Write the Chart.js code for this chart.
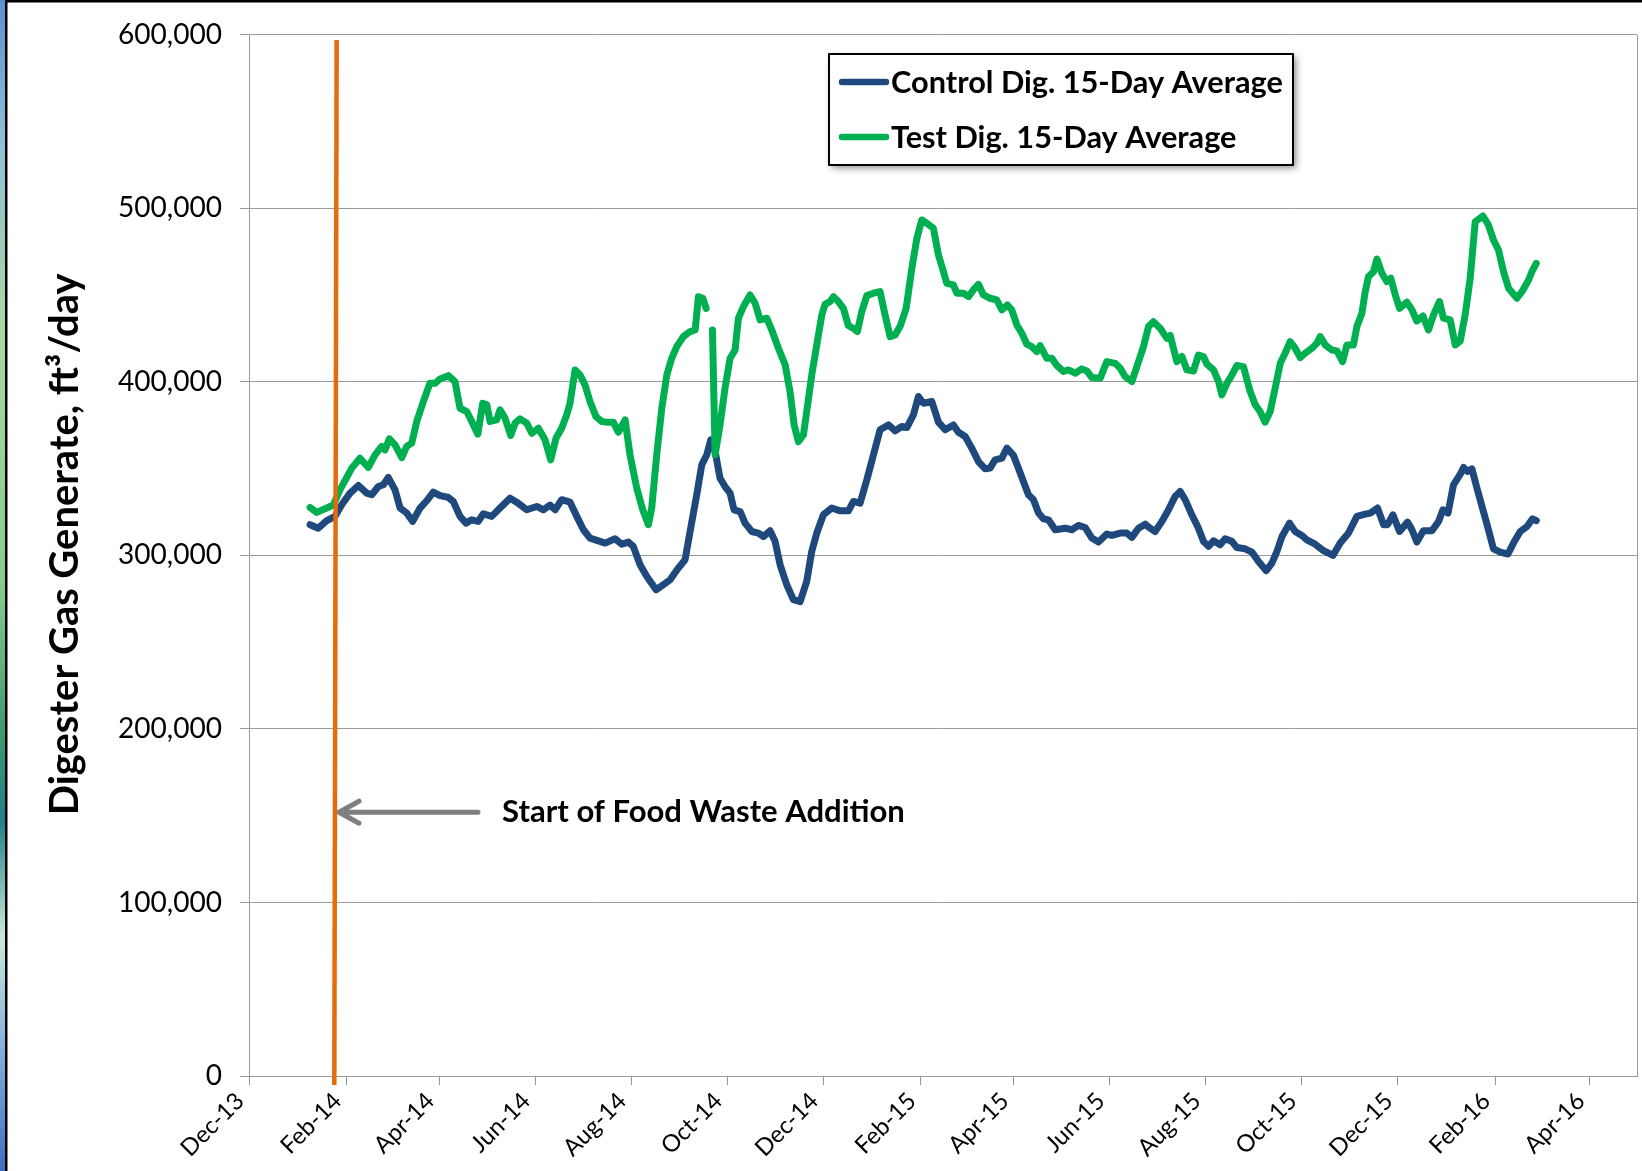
<!DOCTYPE html>
<html><head><meta charset="utf-8">
<script src="https://cdn.jsdelivr.net/npm/chart.js@4.4.1/dist/chart.umd.min.js"></script>
<style>
html,body{margin:0;padding:0;background:#fff;}
canvas{display:block;}
</style></head><body>
<canvas id="c" width="1642" height="1171"></canvas>
<script>
// ---------------- DATA ----------------
const START_DATE = '2013-12-01';
const AXIS_END_DATE = '2016-05-01';
const xTickDates = ['2013-12-01','2014-02-01','2014-04-01','2014-06-01','2014-08-01','2014-10-01','2014-12-01','2015-02-01','2015-04-01','2015-06-01','2015-08-01','2015-10-01','2015-12-01','2016-02-01','2016-04-01'];
const xTickLabels = ['Dec-13','Feb-14','Apr-14','Jun-14','Aug-14','Oct-14','Dec-14','Feb-15','Apr-15','Jun-15','Aug-15','Oct-15','Dec-15','Feb-16','Apr-16'];
const yTickValues = [0,100000,200000,300000,400000,500000,600000];
const yTickLabels = ['0','100,000','200,000','300,000','400,000','500,000','600,000'];
const yAxisTitle = 'Digester Gas Generate, ft\u00B3/day';
const controlLabel = 'Control Dig. 15-Day Average';
const testLabel = 'Test Dig. 15-Day Average';

// days since START_DATE
const controlDays = [38.8,44.0,49.4,54.7,58.9,64.2,69.5,74.8,78.0,82.2,85.4,88.5,92.8,96.0,100.2,104.0,108.7,112.9,117.1,121.4,126.7,129.8,134.1,137.9,141.5,145.7,148.9,154.2,159.5,165.9,170.1,176.5,182.9,187.0,191.3,194.5,198.7,204.0,208.3,212.5,216.7,222.0,226.3,232.6,236.9,241.1,244.2,248.5,252.8,258.7,263.3,267.6,272.8,277.1,280.3,284.5,287.7,290.9,293.4,296.2,299.3,302.5,305.7,308.2,312.1,315.2,319.5,323.7,326.9,331.1,334.3,337.5,341.7,345.9,350.2,354.4,357.6,360.8,365.0,370.3,375.6,380.9,384.1,388.3,392.6,396.8,401.0,406.3,410.6,414.8,418.0,422.2,425.4,428.6,433.9,438.1,442.4,447.6,450.8,455.1,459.3,463.5,467.8,470.9,474.1,478.4,481.6,485.8,488.9,492.1,495.3,498.5,501.7,504.8,508.0,512.3,518.6,522.9,527.1,531.3,535.6,539.8,545.1,548.3,553.6,557.8,561.0,565.2,569.5,572.6,575.8,580.1,584.3,588.5,591.7,594.9,599.1,603.3,606.5,609.7,612.9,617.1,620.3,624.6,627.7,633.0,637.3,641.5,646.4,650.0,653.2,656.4,661.2,664.8,669.0,672.2,677.5,682.8,688.8,693.4,698.7,704.0,709.3,712.5,717.1,721.0,723.5,726.9,731.1,736.2,739.0,742.1,746.3,751.7,755.9,758.7,761.9,765.4,769.7,771.8,774.3,777.1,780.3,784.1,787.6,790.8,795.1,800.0,803.5,807.8,812.1,815.6,818.0];
const controlValues = [317700,315700,320000,322500,329200,335900,340300,335900,335000,339700,340700,344900,337800,327300,324400,319600,327300,331500,336500,334500,333400,331100,322500,318600,320500,319600,324000,322500,327300,333000,330700,326300,328200,326300,329000,326300,332100,330700,322500,314800,310000,308400,307100,309600,306500,307700,305200,294600,287900,280200,283100,286000,292700,297500,313800,334900,352200,358000,366600,359900,344500,339700,335900,326300,325300,318600,313800,312900,310900,314200,308100,294600,283100,274500,273300,285000,302300,312900,323400,327300,325700,325700,331100,330100,343600,358000,372400,375200,371800,374300,373700,381000,391600,387700,388700,376800,372400,375200,371000,368500,361800,354100,349900,350300,355100,356100,361800,357600,350300,342600,334900,332100,324400,321100,320500,314800,315700,314800,317300,316100,310000,307700,312300,311500,312900,312900,310400,315700,318000,315700,313800,319600,326300,334000,336900,332100,323400,315700,308100,305200,308400,306100,309600,308100,304600,303800,301900,296500,291200,295600,302300,310900,318600,313800,311500,309000,306500,302700,300000,307100,312900,322500,323800,324400,327300,317700,317700,323400,313800,319200,314800,307700,314200,314200,319600,326300,324400,340700,346800,350700,348400,349900,338800,326300,314800,303800,301900,300800,307100,313800,316700,321100,320000];

const testDays = [38.8,43.0,49.4,53.6,57.8,65.3,70.5,75.8,80.1,84.3,86.4,89.2,92.8,97.1,100.2,103.4,106.6,110.8,115.0,118.2,121.4,126.7,130.9,134.1,138.4,142.6,145.4,148.5,151.1,153.2,157.4,159.5,162.7,166.3,169.1,172.2,176.5,179.7,183.9,188.1,191.7,195.1,198.7,201.9,204.0,207.2,210.4,213.5,216.7,220.5,224.2,227.3,231.5,234.7,239.0,242.1,246.4,250.2,253.8,255.9,259.1,262.3,265.5,268.6,271.8,276.0,280.3,283.5,285.6,288.4,290.5,292.5,294.5,296.2,299.3,302.5,305.7,308.9,311.0,314.2,318.4,321.6,324.8,329.0,332.2,336.4,340.7,343.8,346.4,349.1,352.3,354.4,357.6,360.8,364.0,366.1,369.3,371.4,374.5,377.7,380.9,384.1,386.6,389.4,392.6,396.8,401.0,404.2,407.4,410.6,413.7,417.6,421.2,424.4,427.5,430.7,434.9,438.1,441.3,443.4,447.6,449.8,454.0,457.2,460.3,463.5,466.7,470.9,475.2,478.4,481.9,484.7,487.9,491.1,494.3,497.4,500.6,502.7,507.0,510.2,513.3,517.5,520.7,525.0,529.2,532.4,535.6,540.9,545.1,550.4,553.6,556.7,561.0,564.2,568.4,571.6,574.7,579.0,583.3,585.4,589.6,592.8,596.0,600.2,603.3,606.5,608.7,612.9,616.1,618.2,621.4,624.6,627.7,631.9,636.2,639.4,642.5,645.7,648.9,652.1,655.3,658.4,661.6,664.8,668.0,671.1,675.4,678.6,680.7,683.9,688.1,691.3,694.9,697.7,701.8,704.0,707.2,709.3,711.4,714.6,716.7,719.9,723.1,725.6,728.4,731.1,735.8,739.0,742.1,746.0,749.5,752.7,756.5,759.0,763.3,766.5,769.7,772.8,776.0,779.2,784.1,787.6,790.8,794.0,797.2,800.4,805.7,808.9,813.1,815.2,818.0];
const testValues = [327600,324800,327300,329200,337800,350300,356000,350700,357900,362800,360800,367200,363700,356400,362800,364700,377200,388700,399200,399200,401700,403600,400200,384800,382900,375200,369900,387700,386800,377200,378100,383900,379100,369100,376200,378700,376200,370400,373300,366600,355100,367600,373300,381000,387700,406900,404000,398300,388700,380000,377200,376800,376800,371000,378100,358000,338800,326300,317700,327300,358000,384800,404000,413600,420300,426100,429000,429900,449100,448200,442400,null,429900,358000,375200,396400,413600,418400,436700,443400,450100,445300,435700,436700,429900,419400,409800,394400,375200,365600,369400,382900,404000,421300,438600,444700,446300,449100,446300,442400,432400,430900,429000,440500,449700,451100,452000,438600,426100,427100,431900,442400,465500,482700,493300,491400,488500,473100,463500,456800,455900,451100,451100,449100,453000,456200,450100,448200,447200,441500,444300,441500,432800,428000,421700,420300,417500,420900,413600,413600,409500,406000,406900,405000,407500,406300,402500,402100,411700,410700,407900,403100,400200,408800,420300,431900,434700,430900,425100,426700,411700,414600,406900,406300,415500,414600,410200,406900,400200,392500,399200,404000,409400,408800,394400,386800,382900,376800,382900,396400,410700,416500,423200,419400,414000,416500,419400,422300,426100,421300,418400,417900,411700,421300,421300,431900,439500,452000,460700,463500,470800,462600,457800,459700,450100,442400,445900,441500,435100,438000,429900,438600,446300,436700,435700,421300,423600,438600,459700,492300,495600,490400,481800,476000,463500,453900,448200,452000,458700,463500,468300];

// start-of-food-waste marker (days since START_DATE, value)
const markerDays = [55.7, 54.2];
const markerValues = [597000, -5200];
const annotationText = 'Start of Food Waste Addition';
const arrowTailDay = 145.5, arrowTipDay = 57.2, arrowValue = 152000, annotationDay = 160.8;

// ---------------- STYLE ----------------
const F = 'Lato';
const BLUE = '#1F497D', GREEN = '#00B050', ORANGE = '#E46C0A', GRID = '#9A9A9A', ARROW = '#7F7F7F';
const dayOf = s => (Date.parse(s + 'T00:00:00Z') - Date.parse(START_DATE + 'T00:00:00Z')) / 864e5;
const mctx = document.createElement('canvas').getContext('2d');
function fit(text, weight, target) { mctx.font = weight + ' 100px ' + F; return 100 * target / mctx.measureText(text).width; }
const yTickSize = fit('600,000', 'normal', 104);
const xTickSize = fit('Dec-13', 'normal', 78);
const titleSize = fit(yAxisTitle, 'bold', 542);
const legendSize = fit(controlLabel, 'bold', 392);
const annotSize = fit(annotationText, 'bold', 403);

const pts = (xs, ys) => xs.map((x, i) => ({x: x, y: ys[i]}));

const decor = {
  id: 'decor',
  beforeDraw(chart) {
    const c = chart.ctx, W = chart.width, H = chart.height;
    c.save();
    c.fillStyle = '#fff'; c.fillRect(0, 0, W, H);
    const g = c.createLinearGradient(0, 0, 0, H);
    g.addColorStop(0, '#5b8fd0'); g.addColorStop(0.12, '#8fbfd6'); g.addColorStop(0.28, '#a6d9a2');
    g.addColorStop(0.5, '#86cc8e'); g.addColorStop(0.62, '#3f9c70'); g.addColorStop(0.7, '#1f8088');
    g.addColorStop(0.8, '#c9ead9'); g.addColorStop(0.9, '#80acdc'); g.addColorStop(1, '#3e6ec2');
    c.fillStyle = g; c.fillRect(0, 0, 5, H);
    c.fillStyle = '#000'; c.fillRect(5, 0, 2.5, H); c.fillRect(5, 0, W - 5, 2.5);
    c.restore();
  },
  afterDraw(chart) {
    const c = chart.ctx, a = chart.chartArea, xs = chart.scales.x, ys = chart.scales.y;
    c.save();
    // plot-area right border
    c.strokeStyle = GRID; c.lineWidth = 1;
    c.beginPath(); c.moveTo(Math.round(a.right) + 0.5, a.top); c.lineTo(Math.round(a.right) + 0.5, a.bottom); c.stroke();
    // y-axis title
    c.save();
    c.translate(65, (a.top + a.bottom) / 2 - 11);
    c.rotate(-Math.PI / 2);
    c.fillStyle = '#000'; c.font = 'bold ' + titleSize + 'px ' + F;
    c.textAlign = 'center'; c.textBaseline = 'middle';
    c.fillText(yAxisTitle, 0, 0);
    c.restore();
    // arrow
    const ay = ys.getPixelForValue(arrowValue);
    const tx = xs.getPixelForValue(arrowTipDay), sx = xs.getPixelForValue(arrowTailDay);
    c.strokeStyle = ARROW; c.lineWidth = 5; c.lineCap = 'round'; c.lineJoin = 'round';
    c.beginPath(); c.moveTo(sx, ay); c.lineTo(tx + 2, ay); c.stroke();
    c.beginPath(); c.moveTo(tx + 20, ay - 11); c.lineTo(tx, ay); c.lineTo(tx + 20, ay + 11); c.stroke();
    // annotation text
    c.fillStyle = '#000'; c.font = 'bold ' + annotSize + 'px ' + F;
    c.textAlign = 'left'; c.textBaseline = 'middle';
    c.fillText(annotationText, xs.getPixelForValue(annotationDay), ay);
    // legend
    const L = 829, T = 54, R = 1293, B = 165;
    c.save();
    c.shadowColor = 'rgba(0,0,0,0.45)'; c.shadowBlur = 7; c.shadowOffsetX = 3; c.shadowOffsetY = 3;
    c.fillStyle = '#fff'; c.fillRect(L, T, R - L, B - T);
    c.restore();
    c.strokeStyle = '#000'; c.lineWidth = 2; c.strokeRect(L, T, R - L, B - T);
    const rows = [82, 137];
    chart.data.datasets.slice(0, 2).forEach((ds, i) => {
      c.strokeStyle = ds.borderColor; c.lineWidth = 6.5; c.lineCap = 'round';
      c.beginPath(); c.moveTo(842, rows[i]); c.lineTo(886, rows[i]); c.stroke();
      c.fillStyle = '#000'; c.font = 'bold ' + legendSize + 'px ' + F;
      c.textAlign = 'left'; c.textBaseline = 'middle';
      c.fillText(ds.label, 891, rows[i] + 1);
    });
    c.restore();
  }
};

new Chart(document.getElementById('c'), {
  type: 'line',
  data: {
    datasets: [
      {label: controlLabel, data: pts(controlDays, controlValues), borderColor: BLUE, borderWidth: 7, pointRadius: 0, tension: 0, borderJoinStyle: 'round', borderCapStyle: 'round', order: 2},
      {label: testLabel, data: pts(testDays, testValues), borderColor: GREEN, borderWidth: 7, pointRadius: 0, tension: 0, borderJoinStyle: 'round', borderCapStyle: 'round', spanGaps: false, order: 1},
      {label: annotationText, data: pts(markerDays, markerValues), borderColor: ORANGE, borderWidth: 4.5, pointRadius: 0, clip: false, order: 0}
    ]
  },
  options: {
    responsive: false, animation: false, devicePixelRatio: 1,
    layout: {padding: {left: 8, top: 33, right: 5, bottom: 0}},
    plugins: {legend: {display: false}, tooltip: {enabled: false}},
    scales: {
      x: {
        type: 'linear', min: 0, max: dayOf(AXIS_END_DATE),
        afterBuildTicks: s => { s.ticks = xTickDates.map(d => ({value: dayOf(d)})); },
        afterFit: s => { s.height = 95; },
        ticks: {autoSkip: false, minRotation: 45, maxRotation: 45, color: '#000', padding: 2, labelOffset: -9,
          font: {family: F, size: xTickSize}, callback: (v, i) => xTickLabels[i]},
        grid: {drawOnChartArea: false, drawTicks: true, tickLength: 9, color: GRID},
        border: {display: true, color: GRID}
      },
      y: {
        min: 0, max: 600000,
        afterBuildTicks: s => { s.ticks = yTickValues.map(v => ({value: v})); },
        afterFit: s => { s.width = 241; },
        ticks: {color: '#000', padding: 18, font: {family: F, size: yTickSize}, callback: (v, i) => yTickLabels[i]},
        grid: {color: GRID, drawTicks: true, tickLength: 9},
        border: {display: true, color: GRID},
        title: {display: false, text: yAxisTitle}
      }
    }
  },
  plugins: [decor]
});
</script>
</body></html>
